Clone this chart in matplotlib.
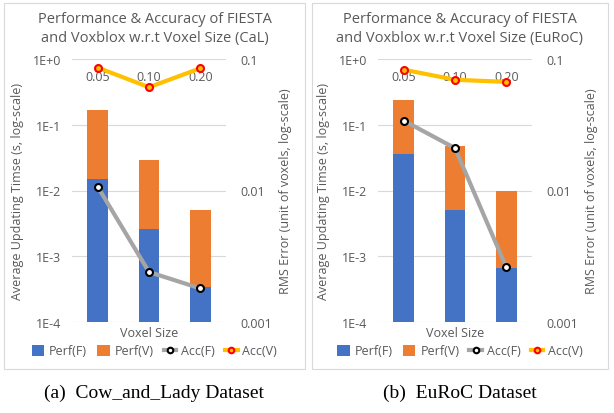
import matplotlib.pyplot as plt
from matplotlib.patches import Rectangle
from matplotlib.lines import Line2D
from matplotlib.patches import Patch

voxel_sizes = ["0.05", "0.10", "0.20"]

# Cow and Lady
cal_perf_f = [0.015, 0.0026, 0.00034]
cal_perf_v = [0.155, 0.026, 0.0048]
cal_acc_f = [0.0107, 0.0024, 0.0018]
cal_acc_v = [0.086, 0.061, 0.085]

# EuRoC
euroc_perf_f = [0.036, 0.0051, 0.00066]
euroc_perf_v = [0.20, 0.042, 0.009]
euroc_acc_f = [0.034, 0.021, 0.0026]
euroc_acc_v = [0.083, 0.0695, 0.067]

BLUE = "#4472C4"
ORANGE = "#ED7D31"
GRAY = "#A5A5A5"
GOLD = "#FFC000"
TXT = "#595959"
GRID = "#D9D9D9"

plt.rcParams["font.family"] = ["Open Sans", "DejaVu Sans"]

W, H = 614, 414
fig = plt.figure(figsize=(W / 100, H / 100), dpi=100)


def panel(x0, x1, ax_left, title, perf_f, perf_v, acc_f, acc_v, caption):
    fig.add_artist(Rectangle((x0 / W, 1 - 370 / H), (x1 - x0) / W, 366 / H,
                             transform=fig.transFigure, fill=False,
                             edgecolor=GRID, linewidth=0.8))
    ax = fig.add_axes([ax_left / W, 91 / H, 154 / W, 263 / H])
    x = range(len(voxel_sizes))
    ax.bar(x, perf_f, width=0.4, color=BLUE, zorder=2)
    ax.bar(x, perf_v, width=0.4, bottom=perf_f, color=ORANGE, zorder=2)
    ax.set_yscale("log")
    ax.set_ylim(1e-4, 1)
    ax.set_xlim(-0.5, 2.5)
    ax.set_yticks([1, 1e-1, 1e-2, 1e-3, 1e-4])
    ax.set_yticklabels(["1E+0", "1E-1", "1E-2", "1E-3", "1E-4"])
    ax.minorticks_off()
    ax.yaxis.grid(True, color=GRID, linewidth=0.8, zorder=0)
    ax.set_axisbelow(True)
    for s in ax.spines.values():
        s.set_visible(False)
    ax.set_xticks(list(x))
    ax.set_xticklabels(voxel_sizes)
    ax.tick_params(axis="x", length=0, labeltop=True, labelbottom=False,
                   pad=-17, labelsize=9, labelcolor=TXT)
    ax.tick_params(axis="y", length=0, labelsize=9, labelcolor=TXT, pad=8)
    ax.set_xlabel("Voxel Size", fontsize=9, color=TXT, labelpad=3)
    ax.set_ylabel("Average Updating Timse (s, log-scale)", fontsize=9,
                  color=TXT, labelpad=6)

    ax2 = ax.twinx()
    ax2.set_yscale("log")
    ax2.set_ylim(1e-3, 0.1)
    ax2.set_yticks([0.1, 0.01, 0.001])
    ax2.set_yticklabels(["0.1", "0.01", "0.001"])
    ax2.minorticks_off()
    for s in ax2.spines.values():
        s.set_visible(False)
    ax2.tick_params(axis="y", length=0, labelsize=9, labelcolor=TXT, pad=10)
    ax2.set_ylabel("RMS Error (unit of voxels, log-scale)", fontsize=9,
                   color=TXT, labelpad=5)
    ax2.plot(x, acc_f, color=GRAY, linewidth=3, marker="o", markersize=5,
             markerfacecolor="white", markeredgecolor="black",
             markeredgewidth=1.5)
    ax2.plot(x, acc_v, color=GOLD, linewidth=3, marker="o", markersize=5,
             markerfacecolor=GOLD, markeredgecolor="red", markeredgewidth=1.5)

    cx = (x0 + x1) / 2 / W
    fig.text(cx, 1 - 29 / H, title, ha="center", va="center", fontsize=10.5,
             color=TXT, linespacing=1.35)
    handles = [
        Patch(facecolor=BLUE, label="Perf(F)"),
        Patch(facecolor=ORANGE, label="Perf(V)"),
        Line2D([], [], color=GRAY, linewidth=3, marker="o", markersize=4,
               markerfacecolor="white", markeredgecolor="black",
               markeredgewidth=1.5, label="Acc(F)"),
        Line2D([], [], color=GOLD, linewidth=3, marker="o", markersize=4,
               markerfacecolor=GOLD, markeredgecolor="red",
               markeredgewidth=1.5, label="Acc(V)"),
    ]
    leg = fig.legend(handles=handles, loc="center", ncol=4,
                     bbox_to_anchor=(cx, 1 - 352 / H), frameon=False,
                     fontsize=9, handlelength=1.0, handleheight=1.0,
                     handletextpad=0.4, columnspacing=0.8)
    for t in leg.get_texts():
        t.set_color(TXT)
    fig.text(cx, 1 - 393 / H, caption, ha="center", va="center",
             fontsize=14, family="Liberation Serif", color="black")


panel(4, 305, 72, "Performance & Accuracy of FIESTA\nand Voxblox w.r.t Voxel Size (CaL)",
      cal_perf_f, cal_perf_v, cal_acc_f, cal_acc_v, "(a)  Cow_and_Lady Dataset")
panel(312, 608, 378, "Performance & Accuracy of FIESTA\nand Voxblox w.r.t Voxel Size (EuRoC)",
      euroc_perf_f, euroc_perf_v, euroc_acc_f, euroc_acc_v, "(b)  EuRoC Dataset")

fig.savefig("out.png", dpi=100)
plt.close(fig)
